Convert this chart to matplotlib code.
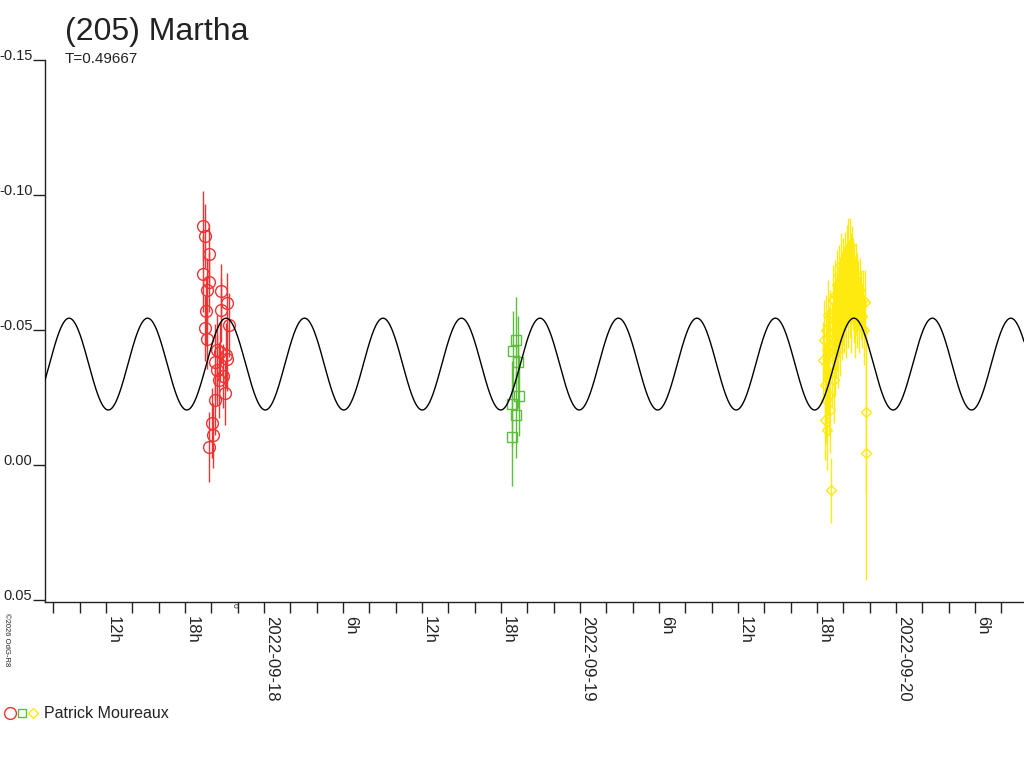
import numpy as np
import matplotlib
matplotlib.use("Agg")
import matplotlib.pyplot as plt
from matplotlib.lines import Line2D

plt.rcParams['font.family'] = ['Liberation Sans', 'DejaVu Sans']
plt.rcParams['axes.unicode_minus'] = False

'''Chart data'''
title = "(205) Martha"
period_days = 0.49667
observer = "Patrick Moureaux"

# model curve parameters
curve_mean = -0.0374
curve_amp = 0.017
curve_peak_hour = 15.0

# time in hours from 2022-09-18 00:00, magnitude
red_h = [-4.63, -4.48, -4.18, -4.63, -4.33, -4.18, -4.40, -4.48, -4.33, -3.27,
         -2.81, -3.27, -2.66, -3.57, -2.81, -3.72, -3.57, -3.11, -3.42, -3.72,
         -2.96, -3.95, -3.87, -4.18, -3.34, -2.89]
red_mag = [-0.0885, -0.0848, -0.0781, -0.0707, -0.0648, -0.0678, -0.0570, -0.0507, -0.0467, -0.0644,
           -0.0600, -0.0574, -0.0519, -0.0426, -0.0393, -0.0381, -0.0352, -0.0330, -0.0315, -0.0241,
           -0.0267, -0.0156, -0.0111, -0.0067, -0.0419, -0.0407]
red_err = [0.013, 0.012, 0.011, 0.014, 0.012, 0.011, 0.013, 0.012, 0.011, 0.010,
           0.011, 0.012, 0.012, 0.013, 0.012, 0.014, 0.013, 0.012, 0.014, 0.013,
           0.012, 0.013, 0.012, 0.013, 0.011, 0.012]

green_h = [19.14, 18.91, 19.29, 19.37, 18.84, 19.14, 18.84]
green_mag = [-0.0463, -0.0422, -0.0381, -0.0256, -0.0226, -0.0185, -0.0104]
green_err = [0.016, 0.015, 0.017, 0.015, 0.016, 0.016, 0.018]

yellow_h = [42.45, 42.53, 42.60, 42.60, 42.68, 42.68, 42.76, 42.76, 42.83, 42.83,
            42.91, 42.91, 42.99, 42.99, 43.06, 43.14, 43.14, 43.21, 43.29, 43.29,
            43.37, 43.37, 43.44, 43.44, 43.52, 43.52, 43.59, 43.59, 43.67, 43.67,
            43.75, 43.75, 43.82, 43.82, 43.90, 43.90, 43.97, 43.97, 44.05, 44.05,
            44.13, 44.13, 44.20, 44.20, 44.28, 44.28, 44.35, 44.35, 44.43, 44.43,
            44.51, 44.51, 44.58, 44.58, 44.66, 44.66, 44.74, 44.74, 44.81, 44.81,
            44.89, 44.89, 44.96, 44.96, 45.04, 45.04, 45.11, 45.19, 45.26, 45.34,
            45.42, 45.49, 45.57, 45.65, 45.72, 45.72]
yellow_mag = [-0.0389, -0.0463, -0.0296, -0.0167, -0.0500, -0.0241, -0.0426, -0.0130, -0.0344, -0.0556,
              -0.0259, -0.0444, -0.0204, -0.0519, 0.0093, -0.0370, -0.0463, -0.0611, -0.0315, -0.0537,
              -0.0407, -0.0630, -0.0463, -0.0574, -0.0500, -0.0667, -0.0426, -0.0593, -0.0537, -0.0704,
              -0.0630, -0.0481, -0.0574, -0.0741, -0.0648, -0.0519, -0.0593, -0.0722, -0.0667, -0.0556,
              -0.0611, -0.0752, -0.0685, -0.0537, -0.0630, -0.0778, -0.0804, -0.0574, -0.0704, -0.0648,
              -0.0815, -0.0611, -0.0741, -0.0544, -0.0767, -0.0667, -0.0630, -0.0722, -0.0593, -0.0685,
              -0.0648, -0.0537, -0.0611, -0.0704, -0.0574, -0.0667, -0.0630, -0.0556, -0.0648, -0.0593,
              -0.0552, -0.0611, -0.0500, -0.0604, -0.0196, -0.0044]
yellow_err = [0.014, 0.015, 0.016, 0.015, 0.013, 0.016, 0.014, 0.015, 0.016, 0.013,
              0.015, 0.014, 0.016, 0.013, 0.012, 0.015, 0.014, 0.013, 0.016, 0.014,
              0.015, 0.013, 0.014, 0.012, 0.015, 0.013, 0.014, 0.012, 0.013, 0.011,
              0.014, 0.015, 0.013, 0.012, 0.014, 0.013, 0.015, 0.012, 0.013, 0.014,
              0.012, 0.011, 0.013, 0.014, 0.012, 0.011, 0.011, 0.014, 0.013, 0.012,
              0.010, 0.014, 0.012, 0.013, 0.012, 0.014, 0.013, 0.012, 0.014, 0.013,
              0.012, 0.014, 0.013, 0.012, 0.014, 0.012, 0.013, 0.014, 0.012, 0.013,
              0.012, 0.011, 0.013, 0.012, 0.030, 0.047]

x_major = [-12, -6, 0, 6, 12, 18, 24, 30, 36, 42, 48, 54]
x_labels = ["12h", "18h", "2022-09-18", "6h", "12h", "18h", "2022-09-19",
            "6h", "12h", "18h", "2022-09-20", "6h"]
y_ticks = [-0.15, -0.10, -0.05, 0.00, 0.05]
y_labels = ["-0.15", "-0.10", "-0.05", "0.00", "0.05"]

red = '#ee3333'
green = '#5cbf3c'
yellow = '#ffea10'
text_col = '#222222'

'''Figure'''
fig = plt.figure(figsize=(10.24, 7.68), dpi=100)
ax = fig.add_axes([45/1024, 1 - 602/768, 979/1024, 542/768])

xmin, xmax = -16.63, 57.72
ax.set_xlim(xmin, xmax)
ax.set_ylim(0.0507, -0.15)

# model curve
half_period = period_days * 24 / 2
hh = np.linspace(xmin, xmax, 2000)
ax.plot(hh, curve_mean - curve_amp * np.cos(2 * np.pi * (hh - curve_peak_hour) / half_period),
        color='black', lw=1.0, zorder=4)

# observations
ax.errorbar(red_h, red_mag, yerr=red_err, fmt='o', ms=8.5, mfc='none', mec=red, mew=1,
            ecolor=red, elinewidth=1, capsize=0, zorder=3)
ax.errorbar(green_h, green_mag, yerr=green_err, fmt='s', ms=6.5, mfc='none', mec=green, mew=1,
            ecolor=green, elinewidth=1, capsize=0, zorder=3)
ax.errorbar(yellow_h, yellow_mag, yerr=yellow_err, fmt='D', ms=5.5, mfc='none', mec=yellow, mew=1,
            ecolor=yellow, elinewidth=1, capsize=0, zorder=3)

# axes styling
for s in ['top', 'right']:
    ax.spines[s].set_visible(False)
for s in ['left', 'bottom']:
    ax.spines[s].set_color(text_col)
    ax.spines[s].set_linewidth(1)

ax.set_xticks(x_major)
ax.set_xticks(np.arange(-16, 58, 2), minor=True)
ax.set_xticklabels(x_labels, rotation=270, ha='left', va='top')
ax.tick_params(axis='x', which='both', direction='out', length=8, width=1,
               color=text_col, labelsize=12, pad=2, labelcolor=text_col)

ax.set_yticks(y_ticks)
ax.set_yticklabels(y_labels)
ax.tick_params(axis='y', direction='out', length=9, width=1, color=text_col,
               labelsize=10.5, pad=0, labelcolor=text_col)
for lbl in ax.get_yticklabels():
    lbl.set_va('baseline')

# texts
fig.text(65/1024, 1 - 40/768, title, fontsize=23, color=text_col, va='baseline', ha='left')
fig.text(65/1024, 1 - 63/768, "T=%.5f" % period_days, fontsize=11, color=text_col,
         va='baseline', ha='left')
fig.text(3/1024, 1 - 613/768, "\u00a92026 OdG-R8", rotation=270, fontsize=5.5,
         color=text_col, va='top', ha='left')
fig.text(231/1024, 1 - 603/768, "0", rotation=270, fontsize=6, color=text_col,
         va='top', ha='left')

# legend at bottom
ly = 1 - 713/768
fig.add_artist(Line2D([10/1024], [ly], marker='o', ms=8.5, mfc='none', mec=red, mew=1,
                      transform=fig.transFigure))
fig.add_artist(Line2D([22/1024], [ly], marker='s', ms=6, mfc='none', mec=green, mew=1,
                      transform=fig.transFigure))
fig.add_artist(Line2D([33/1024], [ly], marker='D', ms=5.5, mfc='none', mec=yellow, mew=1,
                      transform=fig.transFigure))
fig.text(44/1024, ly, observer, fontsize=11.5, color=text_col, va='center', ha='left')

fig.savefig("out.png", dpi=100)
